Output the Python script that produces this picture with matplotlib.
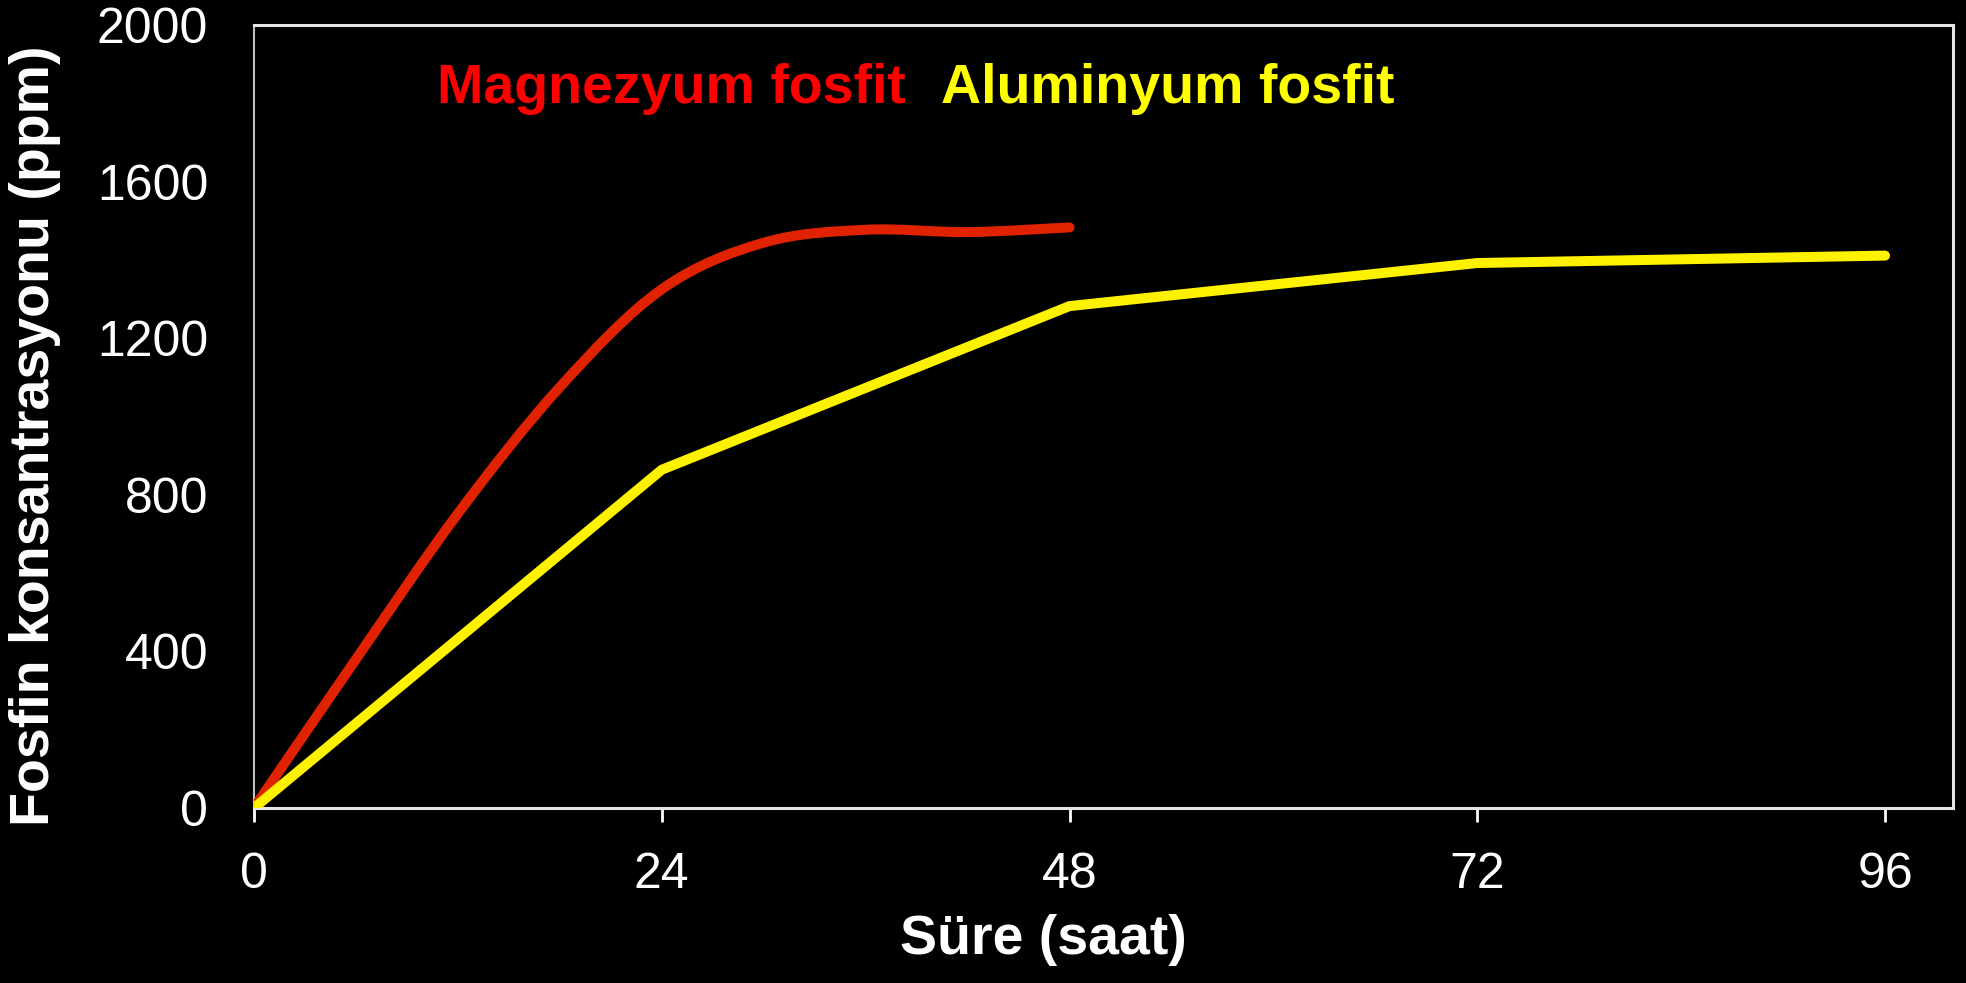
''' Fosfin konsantrasyonu: Magnezyum fosfit vs Aluminyum fosfit '''
import matplotlib
matplotlib.use('Agg')
import matplotlib.pyplot as plt
import numpy as np
from matplotlib.path import Path
from matplotlib.patches import PathPatch

# data
mg_hours = [0, 6, 12, 18, 24, 30, 36, 42, 48]
mg_ppm = [0, 380, 752, 1075, 1325, 1444, 1477, 1471, 1483]
al_hours = [0, 24, 48, 72, 96]
al_ppm = [0, 864, 1282, 1392, 1411]
x_ticks = [0, 24, 48, 72, 96]
y_ticks = [0, 400, 800, 1200, 1600, 2000]

RED = '#e02200'
YELLOW = '#fff200'
TXT_RED = '#ff0000'
TXT_YELLOW = '#ffff00'

plt.rcParams['font.family'] = ['Liberation Sans', 'DejaVu Sans']


def smooth_path(xs, ys):
    ''' Excel style smoothed line: cubic bezier with catmull-rom tangents '''
    pts = np.column_stack([xs, ys]).astype(float)
    n = len(pts)
    verts = [pts[0]]
    codes = [Path.MOVETO]
    for i in range(n - 1):
        p0 = pts[max(i - 1, 0)]
        p1 = pts[i]
        p2 = pts[i + 1]
        p3 = pts[min(i + 2, n - 1)]
        c1 = p1 + (p2 - p0) / 6.0
        c2 = p2 - (p3 - p1) / 6.0
        verts += [c1, c2, p2]
        codes += [Path.CURVE4] * 3
    return Path(verts, codes)


fig = plt.figure(figsize=(19.66, 9.83), dpi=100, facecolor='black')
ax = fig.add_axes([254/1966, 1 - 808/983, (1953-254)/1966, (808-25)/983])
ax.set_facecolor('black')

mg_patch = PathPatch(smooth_path(mg_hours, mg_ppm), transform=ax.transData,
                     facecolor='none', edgecolor=RED, lw=7.2,
                     capstyle='round', joinstyle='round', zorder=3)
ax.add_patch(mg_patch)
ax.plot(al_hours, al_ppm, color=YELLOW, lw=7.2,
        solid_capstyle='round', solid_joinstyle='miter', zorder=3)

ax.set_xlim(0, 100)
ax.set_ylim(0, 2000)
ax.set_xticks(x_ticks)
ax.set_yticks(y_ticks)
ax.tick_params(axis='x', colors='white', labelsize=36, length=10, width=2,
               direction='out', pad=22)
ax.tick_params(axis='y', colors='white', labelsize=36, length=0, pad=33)
for side in ['top', 'right', 'bottom']:
    ax.spines[side].set_color('#e6e6e6')
    ax.spines[side].set_linewidth(2.2)
ax.spines['left'].set_color('#bfbfbf')
ax.spines['left'].set_linewidth(1.5)

fig.text(35/1966, 1 - 436/983, 'Fosfin konsantrasyonu (ppm)', rotation=90,
         ha='center', va='center', color='white', fontsize=40, fontweight='bold')
fig.text(1043/1966, 1 - 940/983, 'Süre (saat)', ha='center', va='center',
         color='white', fontsize=40, fontweight='bold')

fig.text(437/1966, 1 - 103/983, 'Magnezyum fosfit', ha='left', va='baseline',
         color=TXT_RED, fontsize=40, fontweight='bold')
fig.text(941/1966, 1 - 103/983, 'Aluminyum fosfit', ha='left', va='baseline',
         color=TXT_YELLOW, fontsize=40, fontweight='bold')

fig.savefig('out.png', dpi=100, facecolor='black')
